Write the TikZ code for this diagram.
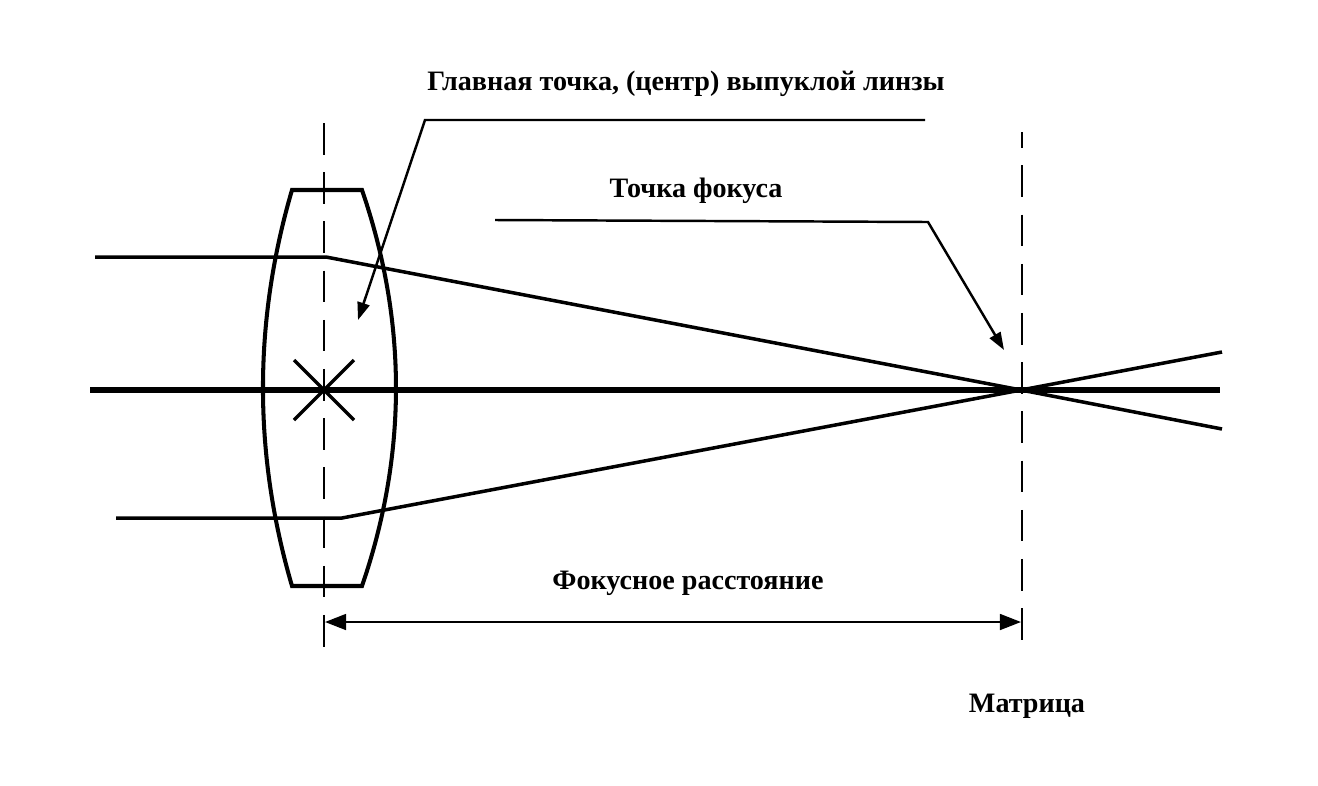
\documentclass[tikz,border=0pt]{standalone}
\usepackage{fontspec}
\setmainfont{Liberation Serif}
\usetikzlibrary{arrows.meta}
\tikzset{
  axisline/.style={line width=3pt},
  lensline/.style={line width=2.3pt, line join=miter},
  rayline/.style={line width=2pt},
  leader/.style={line width=1.4pt, -{Triangle[length=10pt,width=7pt]}},
  dimline/.style={line width=1.3pt, {Triangle[length=12pt,width=9pt]}-{Triangle[length=12pt,width=9pt]}},
  dashline/.style={line width=1.4pt, dash pattern=on 18pt off 10pt},
  lbl/.style={font=\bfseries\fontsize{16}{19}\selectfont, anchor=base, inner sep=0pt},
}
\begin{document}
\begin{tikzpicture}[x=0.02cm,y=-0.02cm]
\useasboundingbox (0,0) rectangle (1318,785);
% coordinates
\coordinate (C) at (324,390);
\coordinate (F) at (1021,390);
% dashed verticals
\draw[dashline] (324,123) -- (324,651);
\draw[dashline, dash phase=9pt] (1022,132) -- (1022,646);
% optical axis
\draw[axisline] (90,390) -- (1220,390);
% lens
\draw[lensline] (292,190) -- (362,190)
  .. controls (407.3,322) and (407.3,454) .. (362,586)
  -- (292,586)
  .. controls (253.3,454) and (253.3,322) .. (292,190) -- cycle;
% centre cross
\draw[line width=2pt] (294,360) -- (354,420) (294,420) -- (354,360);
% rays
\coordinate (U0) at (95,257);
\coordinate (U1) at (326,257);
\coordinate (U2) at (1222,429);
\coordinate (L0) at (116,518);
\coordinate (L1) at (342,518);
\coordinate (L2) at (1222,352);
\draw[rayline] (U0) -- (U1) -- (F) -- (U2);
\draw[rayline] (L0) -- (L1) -- (F) -- (L2);
% labels
\node[lbl] (main) at (686,90) {Главная точка, (центр) выпуклой линзы};
\node[lbl] (focus) at (696,197) {Точка фокуса};
\node[lbl] (flen) at (688,589) {Фокусное расстояние};
\node[lbl] (matr) at (1027,712) {Матрица};
% leaders
\coordinate (A0) at (925,120);
\coordinate (A1) at (425,120);
\coordinate (A2) at (358,320);
\draw[leader] (A0) -- (A1) -- (A2);
\coordinate (B0) at (495,220);
\coordinate (B1) at (928,222);
\coordinate (B2) at (1004,350);
\draw[leader] (B0) -- (B1) -- (B2);
% dimension
\coordinate (D0) at (325,622);
\coordinate (D1) at (1021,622);
\draw[dimline] (D0) -- (D1);
\end{tikzpicture}
\end{document}
